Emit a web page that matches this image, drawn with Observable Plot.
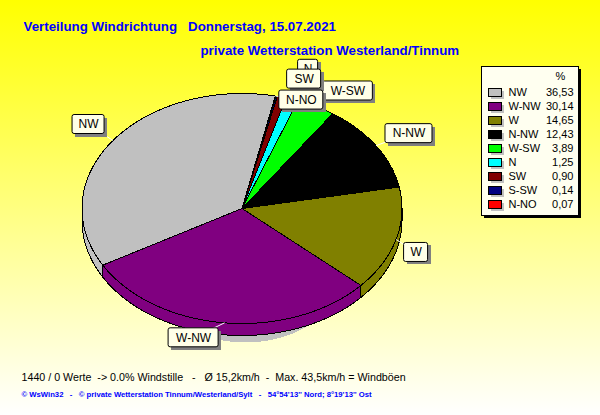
<!DOCTYPE html>
<html>
<head>
<meta charset="utf-8">
<script src="https://cdn.jsdelivr.net/npm/d3@7"></script>
<script src="https://cdn.jsdelivr.net/npm/@observablehq/plot@0.6"></script>
<style>html,body{margin:0;padding:0;background:#fff}svg{display:block}</style>
</head>
<body>
<div id="chart"></div>
<script>
const directions = ["NW","W-NW","W","N-NW","W-SW","N","SW","S-SW","N-NO"];
const percent = [36.53,30.14,14.65,12.43,3.89,1.25,0.90,0.14,0.07];
const percentText = ["36,53","30,14","14,65","12,43","3,89","1,25","0,90","0,14","0,07"];
const colors = ["#c0c0c0","#800080","#808000","#000000","#00ff00","#00ffff","#800000","#000080","#ff0000"];

const title1 = "Verteilung Windrichtung   Donnerstag, 15.07.2021";
const title2 = "private Wetterstation Westerland/Tinnum";
const statsLine = "1440 / 0 Werte  -> 0.0% Windstille   -   Ø 15,2km/h  -  Max. 43,5km/h = Windböen";
const footerLine = "© WsWin32   -   © private Wetterstation Tinnum/Westerland/Sylt   -   54°54'13'' Nord; 8°19'13'' Ost";

// pie geometry (screen units of the position scales)
const pie = {cx:241.5, cy:208, rx:160, ry:115, depth:12, start:78};
const shadow = {cx:245, cy:266, rx:100, ry:76};
// label placement relative to the wedge's outer edge: [dx, dy, width]
const labelPlace = {
  "W-SW":[32,-15.5,50], "N":[16,-30,20], "SW":[22.4,-18,34], "N-NO":[25.7,4,44],
  "NW":[-24.4,-16,32], "W-NW":[-31,15,50], "W":[20,13,24], "N-NW":[33,-12,47]
};
const labelOrder = ["NW","W-NW","W","N-NW","W-SW","N","SW","N-NO"];
const boxH = 19;
const font = "Liberation Sans";

const rad = d => d * Math.PI / 180;
const px = (a, dy = 0) => ({x: pie.cx + pie.rx * Math.cos(rad(a)), y: pie.cy + dy - pie.ry * Math.sin(rad(a))});

// wedges from the values
let acc = pie.start;
const wedges = directions.map((name, i) => {
  const a0 = acc, a1 = acc + percent[i] * 3.6;
  acc = a1;
  return {name, color: colors[i], a0, a1, mid: (a0 + a1) / 2};
});
const topPts = wedges.flatMap(w => {
  const n = Math.max(2, Math.ceil((w.a1 - w.a0) / 2));
  const pts = [{x: pie.cx, y: pie.cy}];
  for (let k = 0; k <= n; k++) pts.push(px(w.a0 + (w.a1 - w.a0) * k / n));
  pts.push({x: pie.cx, y: pie.cy});
  return pts.map(p => ({...p, slice: w.name, color: w.color}));
});
// side wall: only where the wedge lies on the lower half of the ellipse (180..360 degrees)
const wallPts = wedges.flatMap(w => {
  const lo = Math.max(w.a0, 180), hi = Math.min(w.a1, 360);
  if (hi <= lo) return [];
  const n = Math.ceil((hi - lo) / 2);
  const angles = d3.range(n + 1).map(k => lo + (hi - lo) * k / n);
  const pts = [...angles.map(a => px(a)), ...angles.slice().reverse().map(a => px(a, pie.depth)), px(lo)];
  return pts.map(p => ({...p, slice: w.name, color: w.color}));
});
const shadowPts = d3.range(0, 361, 4).map(a => ({
  x: shadow.cx + shadow.rx * Math.cos(rad(a)),
  y: shadow.cy + shadow.ry * Math.sin(rad(a))
}));

// labels
const labels = labelOrder.map(name => {
  const w = wedges.find(d => d.name === name);
  const p = px(w.mid), [dx, dy, bw] = labelPlace[name];
  const cx = p.x + dx, cy = p.y + dy;
  return {name, ax: p.x, ay: p.y, cx, cy, x1: cx - bw / 2, x2: cx + bw / 2, y1: cy - boxH / 2, y2: cy + boxH / 2};
});

// legend
const lg = {x1:481, x2:578, y1:66, y2:215, row0:92, step:14, swX:488, swW:13, swH:8, textX:508, valX:573, headX:560, headY:76};
const rows = directions.map((name, i) => ({name, color: colors[i], text: percentText[i], y: lg.row0 + i * lg.step}));

const crisp = {shapeRendering: "crispEdges"};
const chart = Plot.plot({
  width: 600, height: 415,
  marginTop: 0, marginRight: 0, marginBottom: 0, marginLeft: 0,
  x: {domain: [0, 600], range: [0, 600], axis: null},
  y: {domain: [0, 415], range: [0, 415], axis: null},
  color: {type: "identity"},
  style: {
    background: "linear-gradient(to bottom, #ffff00 0%, #ffffff 100%)",
    whiteSpace: "pre", fontFamily: font
  },
  marks: [
    Plot.text([title1], {x: () => 23, y: () => 26, text: d => d, textAnchor: "start", fill: "#0000ff", fontSize: 13.3, fontWeight: "bold", fontFamily: font}),
    Plot.text([title2], {x: () => 200, y: () => 50, text: d => d, textAnchor: "start", fill: "#0000ff", fontSize: 13.3, fontWeight: "bold", fontFamily: font}),

    Plot.line(shadowPts, {x: "x", y: "y", fill: "#c0c0c0", stroke: "none", ...crisp}),
    Plot.line(wallPts, {x: "x", y: "y", z: "slice", fill: "color", stroke: "#000", strokeWidth: 1, strokeLinejoin: "miter", ...crisp}),
    Plot.line(topPts, {x: "x", y: "y", z: "slice", fill: "color", stroke: "#000", strokeWidth: 1, strokeLinejoin: "miter", ...crisp}),

    Plot.link(labels, {x1: "ax", y1: "ay", x2: "cx", y2: "cy", stroke: "#fff", strokeWidth: 1}),
    labels.flatMap(l => [
      Plot.rect([l], {x1: d => d.x1 + 3, x2: d => d.x2 + 3, y1: d => d.y1 + 3, y2: d => d.y2 + 3, fill: "#808080", ...crisp}),
      Plot.rect([l], {x1: "x1", x2: "x2", y1: "y1", y2: "y2", fill: "#ffffe8", stroke: "#000", strokeWidth: 1, rx: 2}),
      Plot.text([l], {x: "cx", y: "cy", text: "name", fill: "#000", fontSize: 12, fontFamily: font})
    ]),

    Plot.rect([lg], {x1: d => d.x1 + 3, x2: d => d.x2 + 3, y1: d => d.y1 + 3, y2: d => d.y2 + 3, fill: "#000", ...crisp}),
    Plot.rect([lg], {x1: "x1", x2: "x2", y1: "y1", y2: "y2", fill: "#fffff0", stroke: "#000", strokeWidth: 1, ...crisp}),
    Plot.text(["%"], {x: () => lg.headX, y: () => lg.headY, text: d => d, fontSize: 11, fill: "#000", fontFamily: font}),
    Plot.rect(rows, {x1: () => lg.swX + 3, x2: () => lg.swX + lg.swW + 3, y1: d => d.y - lg.swH / 2 + 3, y2: d => d.y + lg.swH / 2 + 3, fill: "#c0c0c0", ...crisp}),
    Plot.rect(rows, {x1: () => lg.swX, x2: () => lg.swX + lg.swW, y1: d => d.y - lg.swH / 2, y2: d => d.y + lg.swH / 2, fill: "color", stroke: "#000", strokeWidth: 1, ...crisp}),
    Plot.text(rows, {x: () => lg.textX, y: "y", text: "name", textAnchor: "start", fontSize: 11, fill: "#000", fontFamily: font}),
    Plot.text(rows, {x: () => lg.valX, y: "y", text: "text", textAnchor: "end", fontSize: 11, fill: "#000", fontFamily: font}),

    Plot.text([statsLine], {x: () => 21, y: () => 377, text: d => d, textAnchor: "start", fontSize: 10.7, fill: "#000", fontFamily: font}),
    Plot.text([footerLine], {x: () => 21, y: () => 394, text: d => d, textAnchor: "start", fontSize: 7.7, fontWeight: "bold", fill: "#0000ff", fontFamily: font})
  ]
});
document.getElementById("chart").append(chart);
</script>
</body>
</html>
